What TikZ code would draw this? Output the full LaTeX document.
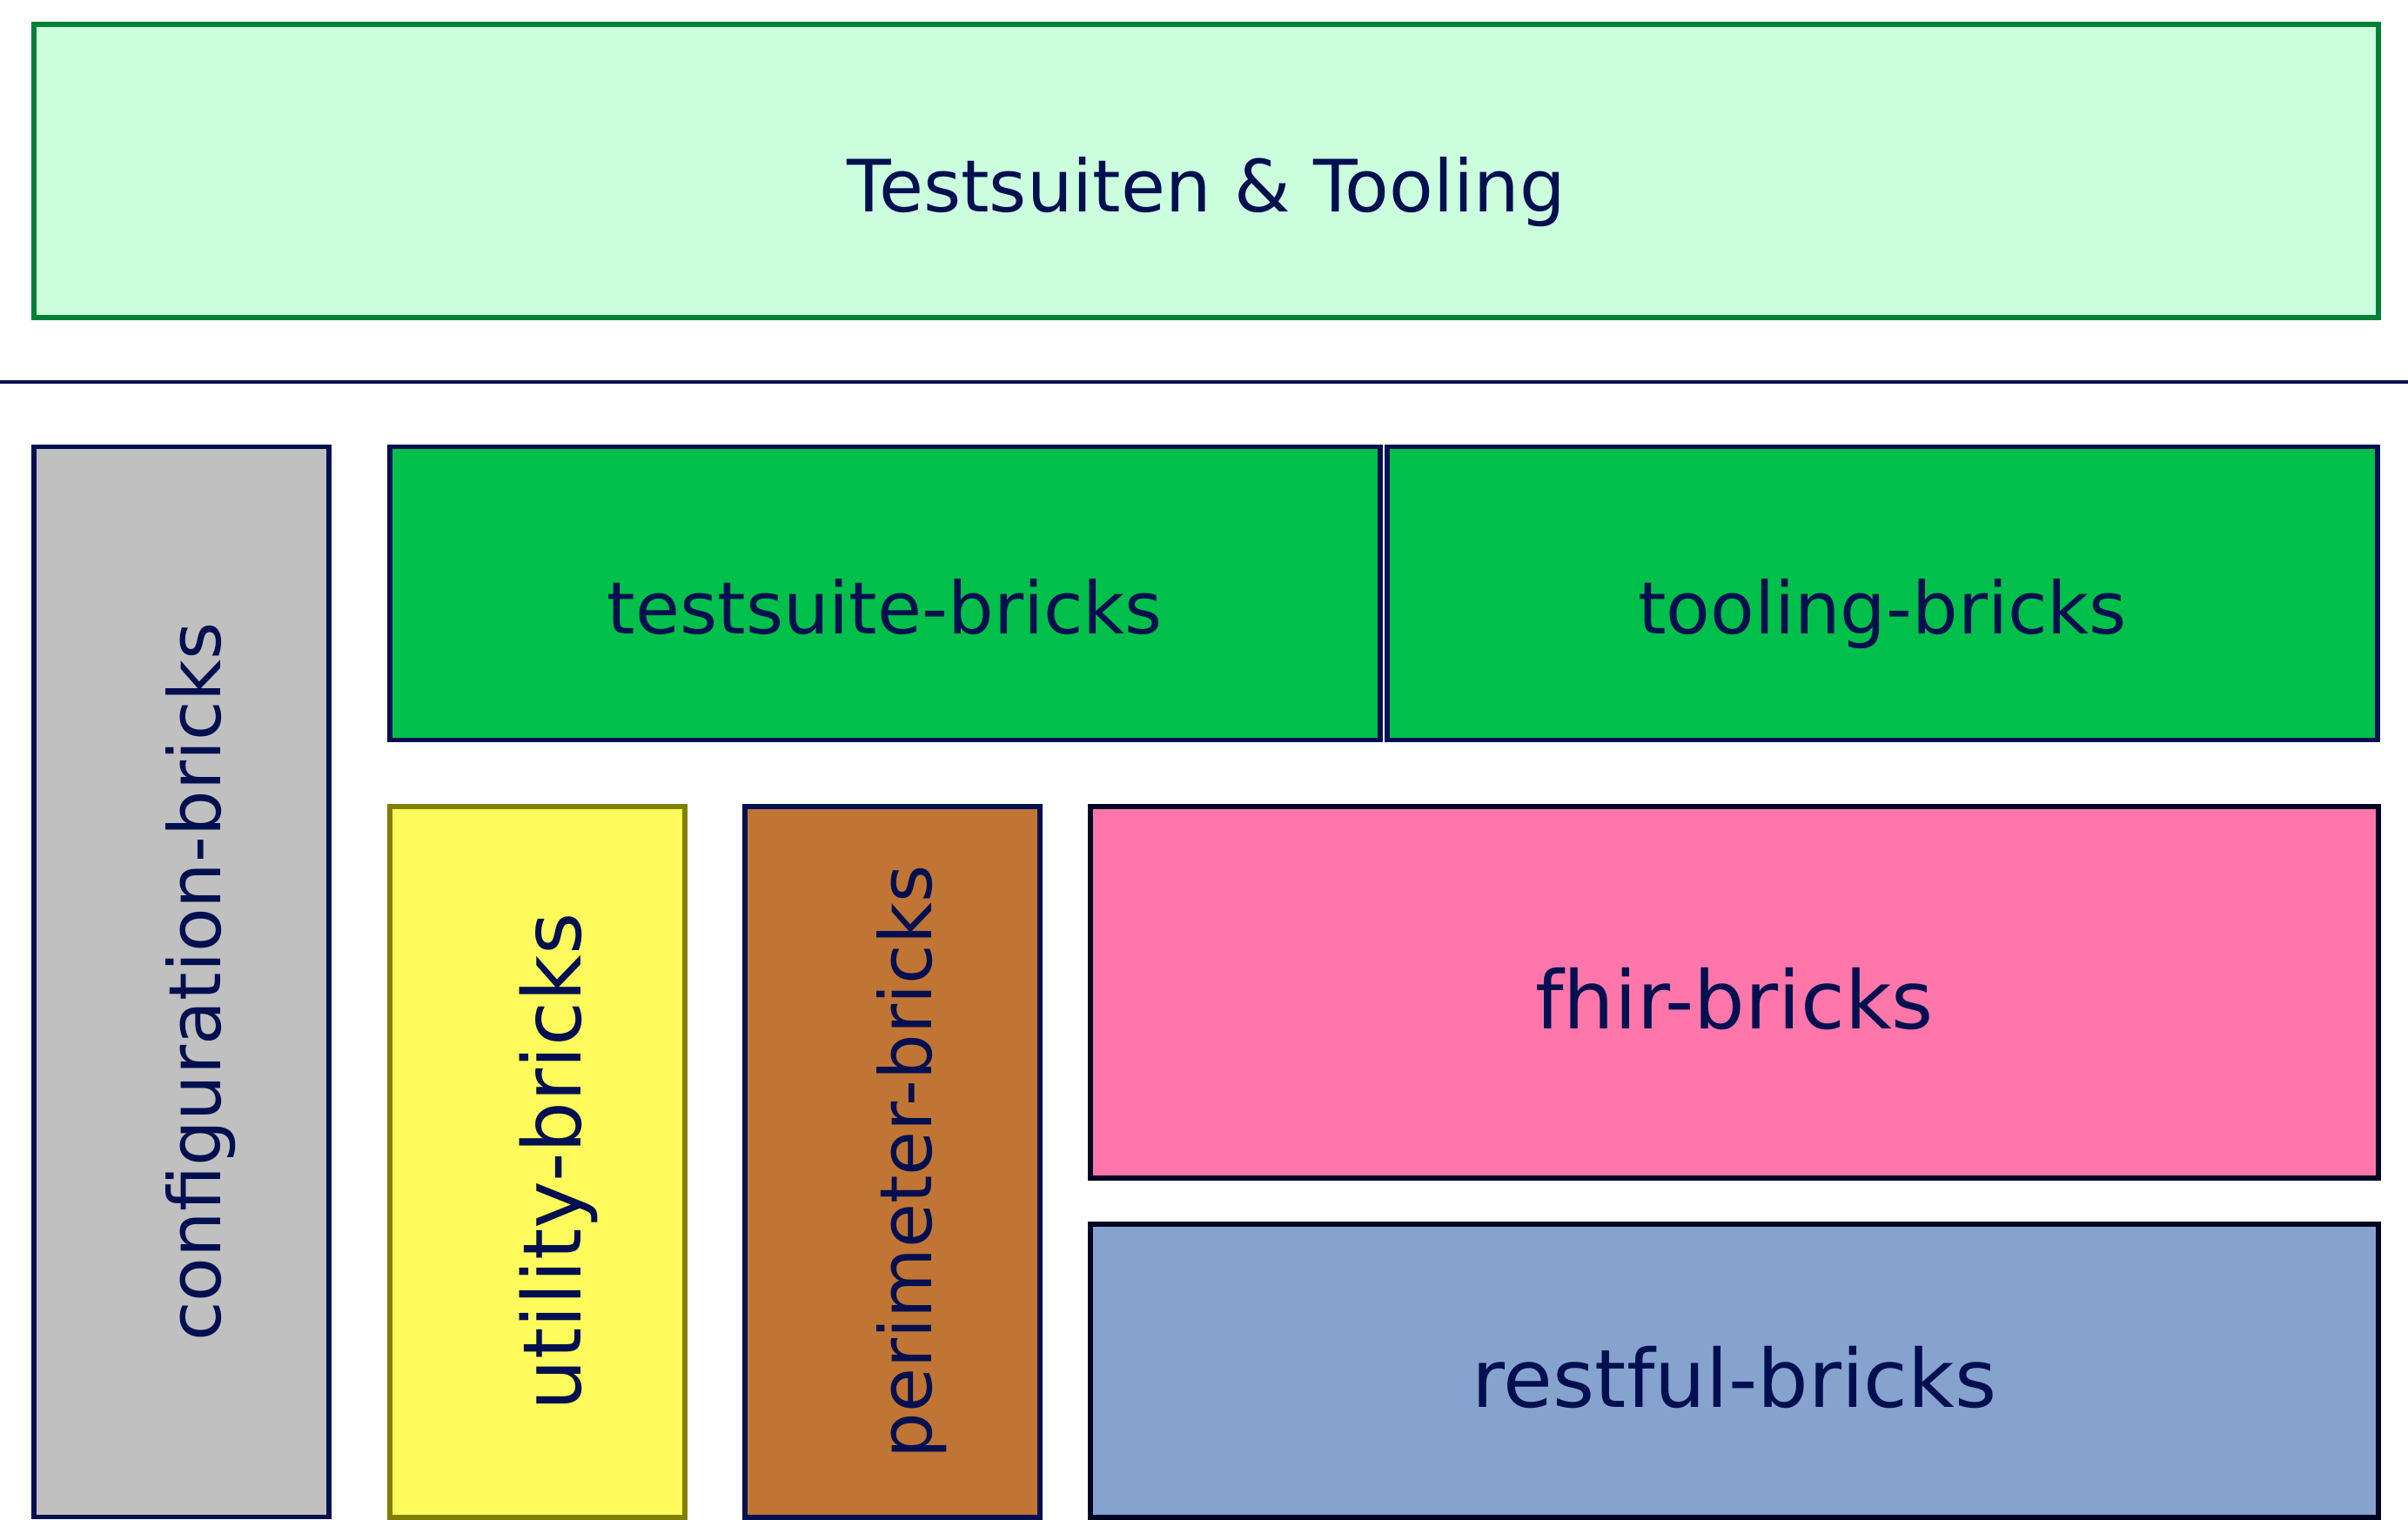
\documentclass[tikz,border=0pt]{standalone}
\usepackage{fontspec}
\setmainfont{DejaVu Sans}
\usepackage{graphicx}
\usetikzlibrary{positioning}
\definecolor{my_navy}{RGB}{0, 15, 80}
\definecolor{my_ink}{RGB}{0, 5, 35}
\definecolor{my_mint}{RGB}{204, 255, 221}
\definecolor{my_darkgreen}{RGB}{0, 128, 55}
\definecolor{my_green}{RGB}{0, 191, 74}
\definecolor{my_gray}{RGB}{192, 192, 192}
\definecolor{my_yellow}{RGB}{255, 251, 92}
\definecolor{my_olive}{RGB}{128, 128, 0}
\definecolor{my_brown}{RGB}{192, 117, 53}
\definecolor{my_pink}{RGB}{255, 119, 170}
\definecolor{my_blue}{RGB}{134, 162, 206}
\newcommand{\sidelabel}[1]{\rotatebox{90}{\raisebox{0pt}[1.08em][0pt]{#1}}}
\tikzset {
  brick/.style = {draw=my_navy, line width=1.6pt, rectangle, text=my_navy, inner sep=0pt, outer sep=0pt, font=\fontsize{23.6}{28}\selectfont},
  flat/.style = {brick, text height=26.5pt, text depth=0pt},
  bigflat/.style = {brick, font=\fontsize{26.3}{31}\selectfont, text height=24pt, text depth=0pt, draw=my_ink, minimum width=14.80cm},
  wide/.style = {flat, minimum width=11.38cm, minimum height=3.37cm},
  tall/.style = {brick, minimum width=3.39cm},
  line/.style = {draw=my_navy, line width=1pt},
}

\begin{document}
\begin{tikzpicture}
  \useasboundingbox (0,0) rectangle (27.67,-17.47);

  \node[flat, fill=my_mint, draw=my_darkgreen, minimum width=26.94cm, minimum height=3.37cm, anchor=north west] (tooling) at (0.39,-0.28) {Testsuiten \& Tooling};
  \coordinate (sepleft) at (0,-4.39);
  \coordinate (sepright) at (27.67,-4.39);

  \node[tall, fill=my_gray, minimum height=12.30cm, anchor=north west] (config) at (0.39,-5.135) {\sidelabel{configuration-bricks}};
  \node[wide, fill=my_green, right=0.70cm of config.north east, anchor=north west] (suite) {testsuite-bricks};
  \node[wide, fill=my_green, right=0.08cm of suite.north east, anchor=north west] (tool) {tooling-bricks};
  \node[tall, fill=my_yellow, draw=my_olive, font=\fontsize{26.4}{31}\selectfont, minimum height=8.17cm, below=0.765cm of suite.south west, anchor=north west] (utility) {\sidelabel{utility-bricks}};
  \node[tall, fill=my_brown, minimum height=8.17cm, right=0.69cm of utility.north east, anchor=north west] (perimeter) {\sidelabel{perimeter-bricks}};
  \node[bigflat, fill=my_pink, minimum height=4.27cm, right=0.58cm of perimeter.north east, anchor=north west] (fhir) {fhir-bricks};
  \node[bigflat, fill=my_blue, minimum height=3.37cm, below=0.53cm of fhir.south west, anchor=north west] (restful) {restful-bricks};

  \draw[line] (sepleft) -- (sepright);
\end{tikzpicture}
\end{document}
